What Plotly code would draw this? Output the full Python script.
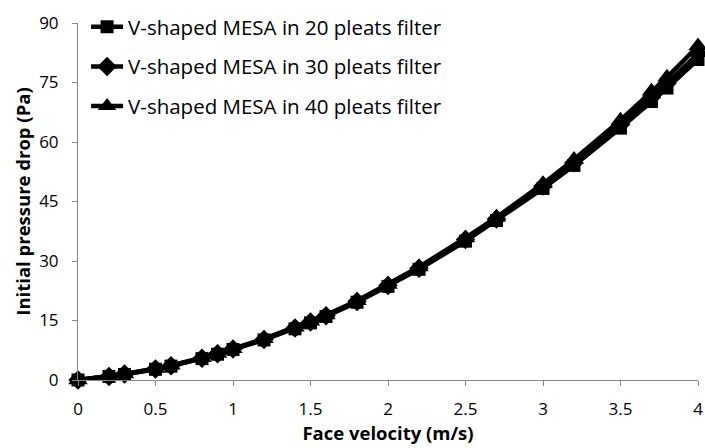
import plotly.graph_objects as go

velocity = [0, 0.2, 0.3, 0.5, 0.6, 0.8, 0.9, 1.0, 1.2, 1.4, 1.5, 1.6, 1.8, 2.0, 2.2, 2.5, 2.7, 3.0, 3.2, 3.5, 3.7, 3.8, 4.0]
p20 = [0, 0.9, 1.4, 2.7, 3.5, 5.4, 6.5, 7.7, 10.1, 12.9, 14.4, 16.0, 19.6, 23.6, 27.9, 35.0, 40.2, 48.3, 54.1, 63.5, 70.2, 73.6, 80.8]
p30 = [0, 0.9, 1.5, 2.8, 3.6, 5.5, 6.6, 7.8, 10.2, 13.1, 14.6, 16.2, 19.8, 23.8, 28.2, 35.4, 40.6, 48.9, 54.8, 64.4, 71.3, 74.8, 82.3]
p40 = [0, 1.0, 1.5, 2.9, 3.7, 5.6, 6.7, 7.9, 10.4, 13.3, 14.8, 16.4, 20.0, 24.1, 28.5, 35.8, 41.0, 49.5, 55.6, 65.5, 72.8, 76.3, 84.2]
names = ["V-shaped MESA in 20 pleats filter", "V-shaped MESA in 30 pleats filter", "V-shaped MESA in 40 pleats filter"]
symbols = ["square", "diamond", "triangle-up"]
sizes = [13, 15, 17]

FONT = "Open Sans"
fig = go.Figure()
for i, (name, ys) in enumerate(zip(names, [p20, p30, p40])):
    fig.add_trace(go.Scatter(
        x=velocity, y=ys, name=name, mode="lines+markers",
        line=dict(color="black", width=4.5),
        marker=dict(symbol=symbols[i], size=sizes[i], color="black"),
        cliponaxis=False, legendgroup=f"g{i}",
    ))

axis_common = dict(showline=True, linecolor="#868686", linewidth=1, ticks="outside",
                   tickcolor="#868686", ticklen=5, showgrid=False, zeroline=False,
                   tickfont=dict(family=FONT, size=17, color="black"))
fig.update_layout(
    width=705, height=448,
    margin=dict(l=78, r=7, t=15, b=68),
    paper_bgcolor="white", plot_bgcolor="white",
    font=dict(family=FONT, color="black"),
    xaxis=dict(range=[0, 4], tickvals=[0, 0.5, 1, 1.5, 2, 2.5, 3, 3.5, 4],
               ticktext=["0", "0.5", "1", "1.5", "2", "2.5", "3", "3.5", "4"],
               ticklabelstandoff=9, automargin=False,
               title=dict(text="<b>Face velocity (m/s)</b>", font=dict(family=FONT, size=18.5), standoff=0),
               **axis_common),
    yaxis=dict(range=[0, 90], tickvals=[0, 15, 30, 45, 60, 75, 90],
               ticklabelstandoff=10, automargin=False,
               title=dict(text="<b>Initial pressure drop (Pa)</b>", font=dict(family=FONT, size=18.5), standoff=3),
               **axis_common),
    legend=dict(x=0.013, y=1.045, xanchor="left", yanchor="top", traceorder="grouped",
                tracegroupgap=10, font=dict(family=FONT, size=20.5), bgcolor="rgba(0,0,0,0)",
                itemwidth=32),
    showlegend=True,
)
fig.write_html("out.html")
